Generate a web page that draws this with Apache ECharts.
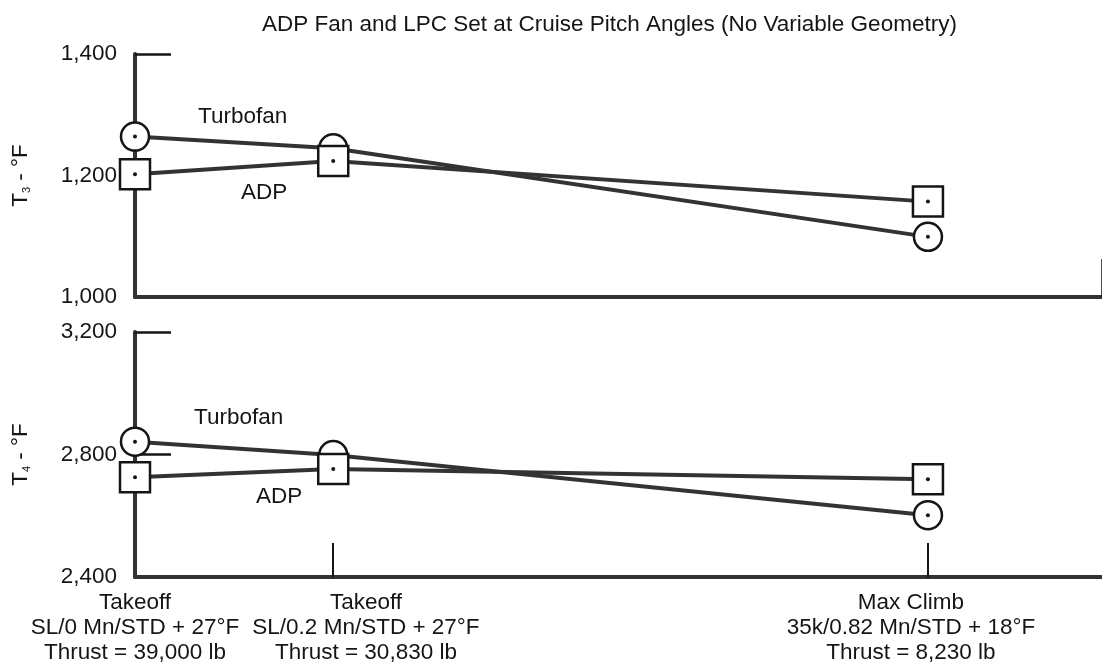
<!DOCTYPE html>
<html>
<head>
<meta charset="utf-8">
<script src="https://cdn.jsdelivr.net/npm/echarts@6/dist/echarts.min.js"></script>
<style>
  html, body { margin: 0; padding: 0; background: #fff; }
  #main { width: 1102px; height: 667px; }
</style>
</head>
<body>
<div id="main"></div>
<script>
// operating conditions along the x axis
var conditions = [
    'Takeoff\nSL/0 Mn/STD + 27°F\nThrust = 39,000 lb',
    'Takeoff\nSL/0.2 Mn/STD + 27°F\nThrust = 30,830 lb',
    'Max Climb\n35k/0.82 Mn/STD + 18°F\nThrust = 8,230 lb'
];
var conditionPos = [0, 1, 4];
// where each condition caption is centred (they sit a little off the ticks)
var captionPos = [0, 1.165, 3.914];
var xMax = 4.878;

// T3 (top panel)
var t3Turbofan = [1264, 1245, 1099];
var t3Adp = [1202, 1224, 1157];
var t3Ticks = [1000, 1200, 1400];

// T4 (bottom panel)
var t4Turbofan = [2842, 2798, 2602];
var t4Adp = [2726, 2753, 2719];
var t4Ticks = [2400, 2800, 3200];

var FONT = 'Liberation Sans';
var FS = 22.5;
var INK = '#151515';
var LINE = '#333';

var mychart = echarts.init(document.getElementById('main'));

function pairs(vals) {
    return vals.map(function (v, i) { return [conditionPos[i], v]; });
}

function panelSeries(idx, turbofan, adp) {
    var base = {xAxisIndex: idx, yAxisIndex: idx, silent: true};
    return [
        Object.assign({type: 'line', data: pairs(turbofan), showSymbol: false,
            lineStyle: {color: LINE, width: 4}, z: 2}, base),
        Object.assign({type: 'line', data: pairs(adp), showSymbol: false,
            lineStyle: {color: LINE, width: 4}, z: 2}, base),
        // turbofan circles + centre dots
        Object.assign({type: 'scatter', data: pairs(turbofan), symbol: 'circle', symbolSize: 28,
            itemStyle: {color: '#fff', borderColor: INK, borderWidth: 2.5, opacity: 1}, z: 3}, base),
        Object.assign({type: 'scatter', data: pairs(turbofan), symbol: 'circle', symbolSize: 4,
            itemStyle: {color: INK, opacity: 1}, z: 4}, base),
        // ADP squares + centre dots
        Object.assign({type: 'scatter', data: pairs(adp), symbol: 'rect', symbolSize: 30,
            itemStyle: {color: '#fff', borderColor: INK, borderWidth: 2.5, opacity: 1}, z: 5}, base),
        Object.assign({type: 'scatter', data: pairs(adp), symbol: 'circle', symbolSize: 4,
            itemStyle: {color: INK, opacity: 1}, z: 6}, base)
    ];
}

function yAxis(idx, ticks, sub, tickVals) {
    return {
        type: 'value', gridIndex: idx,
        min: ticks[0], max: ticks[ticks.length - 1], interval: ticks[1] - ticks[0],
        name: '{t|T}{s|' + sub + '}{t| - °F}',
        nameLocation: 'middle', nameGap: 103,
        nameTextStyle: {
            rich: {
                t: {fontFamily: FONT, fontSize: FS, color: INK, lineHeight: 24, verticalAlign: 'bottom'},
                s: {fontFamily: FONT, fontSize: 11, color: INK, lineHeight: 24, verticalAlign: 'bottom'}
            }
        },
        axisLine: {show: true, lineStyle: {color: LINE, width: 4}},
        axisTick: {show: true, inside: true, length: 36, customValues: tickVals, lineStyle: {color: INK, width: 2.5}},
        axisLabel: {
            margin: 18, fontFamily: FONT, fontSize: FS, color: INK,
            customValues: ticks, showMinLabel: true, showMaxLabel: true,
            formatter: function (v) { return v.toLocaleString('en-US'); }
        },
        splitLine: {show: false}
    };
}

var option = {
    animation: false,
    backgroundColor: '#fff',
    title: {
        text: 'ADP Fan and LPC Set at Cruise Pitch Angles (No Variable Geometry)',
        left: 257, top: 8,
        textStyle: {fontFamily: FONT, fontSize: FS, fontWeight: 'normal', color: INK}
    },
    grid: [
        {left: 135, right: 0, top: 54, height: 243},
        {left: 135, right: 0, top: 332, height: 245}
    ],
    xAxis: [
        {
            type: 'value', gridIndex: 0, min: 0, max: xMax,
            axisLine: {show: true, onZero: false, lineStyle: {color: LINE, width: 4}},
            axisTick: {show: true, inside: true, length: 38, customValues: [xMax], lineStyle: {color: INK, width: 2.5}},
            axisLabel: {show: false},
            splitLine: {show: false}
        },
        {
            type: 'value', gridIndex: 1, min: 0, max: xMax,
            axisLine: {show: true, onZero: false, lineStyle: {color: LINE, width: 4}},
            axisTick: {show: true, inside: true, length: 34, customValues: [1, 4], lineStyle: {color: INK, width: 2}},
            axisLabel: {
                margin: 13, fontFamily: FONT, fontSize: FS, lineHeight: 25, color: INK, align: 'center',
                customValues: captionPos, showMinLabel: true, showMaxLabel: true, hideOverlap: false,
                formatter: function (v) {
                    var i = captionPos.indexOf(v);
                    return i < 0 ? '' : conditions[i];
                }
            },
            splitLine: {show: false}
        }
    ],
    yAxis: [
        yAxis(0, t3Ticks, '3', [1400]),
        yAxis(1, t4Ticks, '4', [3200, 2800])
    ],
    graphic: [
        {type: 'text', left: 198, top: 105, style: {text: 'Turbofan', font: FS + 'px "Liberation Sans"', fill: INK}},
        {type: 'text', left: 241, top: 181, style: {text: 'ADP', font: FS + 'px "Liberation Sans"', fill: INK}},
        {type: 'text', left: 194, top: 406, style: {text: 'Turbofan', font: FS + 'px "Liberation Sans"', fill: INK}},
        {type: 'text', left: 256, top: 485, style: {text: 'ADP', font: FS + 'px "Liberation Sans"', fill: INK}}
    ],
    series: panelSeries(0, t3Turbofan, t3Adp).concat(panelSeries(1, t4Turbofan, t4Adp))
};

mychart.setOption(option);
</script>
</body>
</html>
